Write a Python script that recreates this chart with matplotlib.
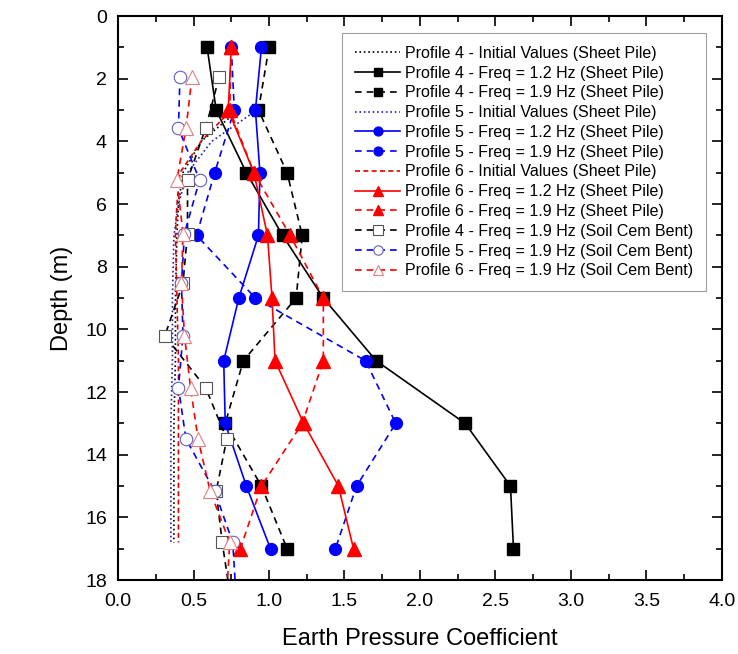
import matplotlib
matplotlib.use("Agg")
from matplotlib import pyplot as plt
from matplotlib.ticker import MultipleLocator

plt.rcParams['font.family'] = ['Liberation Sans', 'DejaVu Sans']

# depths (m)
depth_sheet = [1, 3, 5, 7, 9, 11, 13, 15, 17]
depth_init = [3, 4, 5, 6, 7, 9, 11, 13, 15, 16.8]
depth_scb = [1.94, 3.58, 5.23, 6.94, 8.53, 10.2, 11.86, 13.5, 15.16, 16.8, 18.4]

# initial values (sheet pile)
p4_init = [0.80, 0.55, 0.43, 0.40, 0.39, 0.38, 0.38, 0.37, 0.37, 0.37]
p5_init = [0.92, 0.62, 0.46, 0.40, 0.37, 0.36, 0.36, 0.35, 0.35, 0.35]
p6_init = [0.75, 0.55, 0.41, 0.39, 0.38, 0.39, 0.40, 0.40, 0.40, 0.40]

# sheet pile, 1.2 Hz / 1.9 Hz
p4_12 = [0.59, 0.65, 0.85, 1.09, 1.36, 1.71, 2.30, 2.60, 2.62]
p4_19 = [1.00, 0.93, 1.12, 1.22, 1.18, 0.83, 0.71, 0.95, 1.12]
p5_12 = [0.95, 0.91, 0.94, 0.93, 0.80, 0.70, 0.71, 0.85, 1.01]
p5_19 = [0.75, 0.77, 0.64, 0.52, 0.91, 1.64, 1.84, 1.58, 1.44]
p6_12 = [0.75, 0.73, 0.90, 0.99, 1.02, 1.04, 1.23, 1.46, 1.56]
p6_19 = [0.75, 0.74, 0.90, 1.14, 1.36, 1.36, 1.22, 0.95, 0.81]

# soil cement bentonite, 1.9 Hz
p4_scb = [0.67, 0.58, 0.46, 0.46, 0.43, 0.31, 0.58, 0.72, 0.65, 0.69, 0.74]
p5_scb = [0.41, 0.40, 0.54, 0.44, 0.42, 0.43, 0.40, 0.45, 0.64, 0.76, 0.78]
p6_scb = [0.49, 0.45, 0.39, 0.43, 0.42, 0.44, 0.48, 0.53, 0.61, 0.74, 0.72]

fig = plt.figure(figsize=(7.38, 6.54), dpi=100)
ax = fig.add_axes([0.160, 0.113, 0.818, 0.8625])

dash = (0, (4, 3))
lw = 1.2
ms_sq, ms_ci, ms_tr = 8, 8.5, 10

ax.plot(p4_init, depth_init, color='black', ls=':', lw=lw, label='Profile 4 - Initial Values (Sheet Pile)')
ax.plot(p4_12, depth_sheet, color='black', ls='-', lw=lw, marker='s', ms=ms_sq, label='Profile 4 - Freq = 1.2 Hz (Sheet Pile)')
ax.plot(p4_19, depth_sheet, color='black', ls=dash, lw=lw, marker='s', ms=ms_sq, label='Profile 4 - Freq = 1.9 Hz (Sheet Pile)')
ax.plot(p5_init, depth_init, color='#2020c0', ls=':', lw=lw, label='Profile 5 - Initial Values (Sheet Pile)')
ax.plot(p5_12, depth_sheet, color='#0000ff', ls='-', lw=lw, marker='o', ms=ms_ci, label='Profile 5 - Freq = 1.2 Hz (Sheet Pile)')
ax.plot(p5_19, depth_sheet, color='#0000ff', ls=dash, lw=lw, marker='o', ms=ms_ci, label='Profile 5 - Freq = 1.9 Hz (Sheet Pile)')
ax.plot(p6_init, depth_init, color='#e00000', ls=(0, (3, 2)), lw=lw, label='Profile 6 - Initial Values (Sheet Pile)')
ax.plot(p6_12, depth_sheet, color='#ff0000', ls='-', lw=lw, marker='^', ms=ms_tr, label='Profile 6 - Freq = 1.2 Hz (Sheet Pile)')
ax.plot(p6_19, depth_sheet, color='#ff0000', ls=dash, lw=lw, marker='^', ms=ms_tr, label='Profile 6 - Freq = 1.9 Hz (Sheet Pile)')
ax.plot(p4_scb, depth_scb, color='black', ls=dash, lw=lw, marker='s', ms=ms_sq + 1, mfc='white', mec='#555555', mew=0.8,
        label='Profile 4 - Freq = 1.9 Hz (Soil Cem Bent)')
ax.plot(p5_scb, depth_scb, color='#0000ff', ls=dash, lw=lw, marker='o', ms=ms_ci + 0.5, mfc='white', mec='#6060c0', mew=0.8,
        label='Profile 5 - Freq = 1.9 Hz (Soil Cem Bent)')
ax.plot(p6_scb, depth_scb, color='#ff0000', ls=dash, lw=lw, marker='^', ms=ms_tr, mfc='white', mec='#e08080', mew=0.8,
        label='Profile 6 - Freq = 1.9 Hz (Soil Cem Bent)')

ax.set_xlim(0, 4)
ax.set_ylim(18, 0)
ax.xaxis.set_major_locator(MultipleLocator(0.5))
ax.xaxis.set_minor_locator(MultipleLocator(0.25))
ax.yaxis.set_major_locator(MultipleLocator(2))
ax.yaxis.set_minor_locator(MultipleLocator(1))
ax.tick_params(which='both', direction='in', top=True, right=True, labelsize=14, width=1.2)
ax.tick_params(which='major', length=7)
ax.tick_params(which='minor', length=4)
ax.tick_params(axis='x', pad=9)
ax.tick_params(axis='y', pad=8)
for s in ax.spines.values():
    s.set_linewidth(1.5)

ax.set_xlabel('Earth Pressure Coefficient', fontsize=17, labelpad=13)
ax.set_ylabel('Depth (m)', fontsize=17, labelpad=9)

leg = ax.legend(loc='upper right', bbox_to_anchor=(0.9735, 0.970), borderaxespad=0, fontsize=11.5,
                handlelength=2.8, frameon=True, fancybox=False, edgecolor='#888888', borderpad=0.8,
                labelspacing=0.3, handletextpad=0.3, markerscale=0.75)
leg.get_frame().set_linewidth(0.8)

fig.savefig('out.png', dpi=100)
